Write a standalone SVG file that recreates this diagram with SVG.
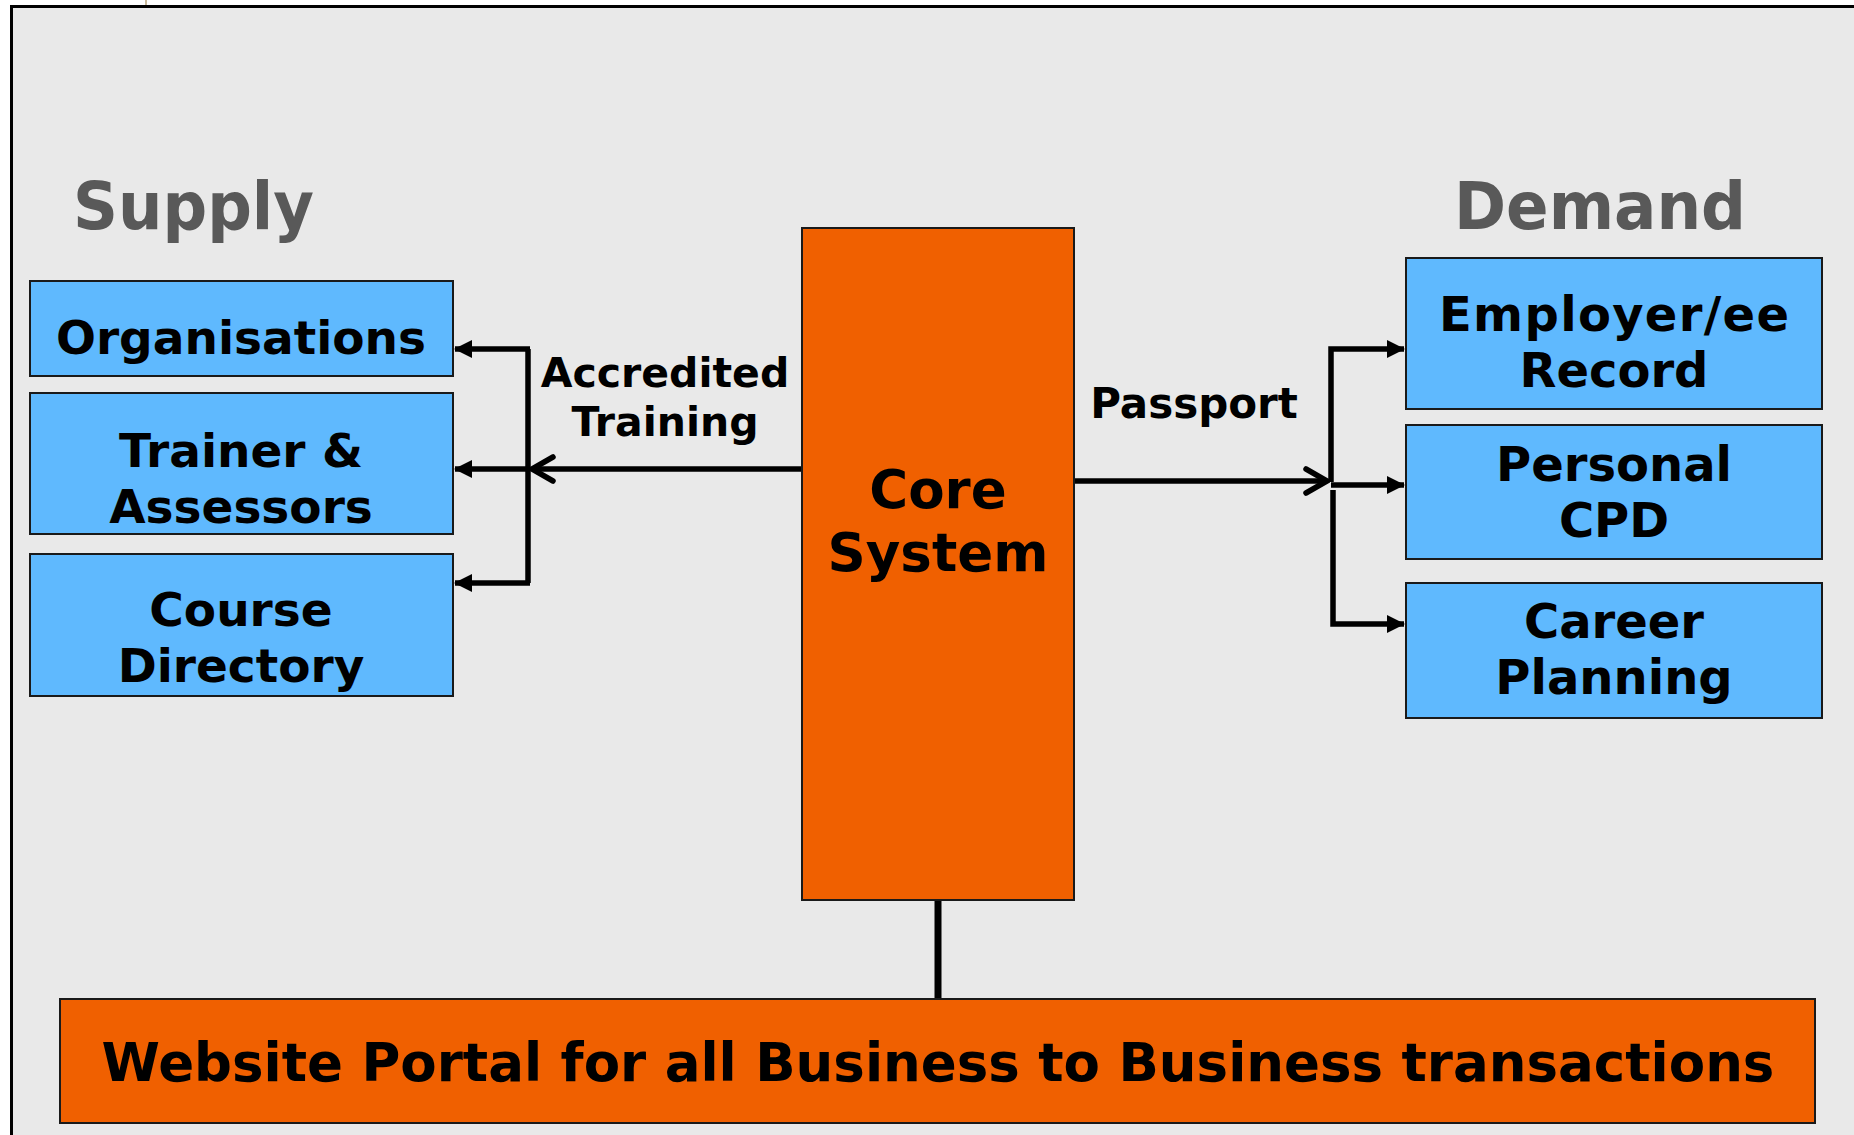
<svg xmlns="http://www.w3.org/2000/svg" width="1854" height="1135" viewBox="0 0 1854 1135">
  <style>
    .t { font-family: "DejaVu Sans", Verdana, sans-serif; font-weight: bold; text-anchor: middle; fill: #000; }
    .head { font-family: "DejaVu Sans", Verdana, sans-serif; font-weight: bold; fill: #595959; }
    .blue { fill: #5fb9fe; stroke: #1a1a1a; stroke-width: 2; }
    .orange { fill: #f06000; stroke: #1a1a1a; stroke-width: 2; }
    .ln { fill: none; stroke: #000; stroke-width: 5.5; }
  </style>
  <defs>
    <marker id="solid" viewBox="0 0 18 20" refX="17" refY="10" markerWidth="18" markerHeight="20" orient="auto" markerUnits="userSpaceOnUse">
      <path d="M0,1 L18,10 L0,19 Z" fill="#000"/>
    </marker>
    <marker id="open" viewBox="0 0 28 32" refX="25" refY="16" markerWidth="28" markerHeight="32" orient="auto" markerUnits="userSpaceOnUse">
      <path d="M4,4 L25,16 L4,28" fill="none" stroke="#000" stroke-width="5.5" stroke-linecap="round" stroke-linejoin="miter"/>
    </marker>
  </defs>

  <!-- page and frame -->
  <rect x="0" y="0" width="1854" height="1135" fill="#ffffff"/>
  <line x1="146" y1="0" x2="146" y2="6" stroke="#c9b99b" stroke-width="2"/>
  <rect x="11.5" y="6.5" width="1860" height="1140" fill="#e9e9e9" stroke="#000" stroke-width="3"/>

  <!-- headings -->
  <text class="head" x="73" y="229" font-size="66" textLength="241" lengthAdjust="spacingAndGlyphs">Supply</text>
  <text class="head" x="1454" y="229" font-size="65" textLength="292" lengthAdjust="spacingAndGlyphs">Demand</text>

  <!-- connectors -->
  <g id="connectors">
    <!-- supply side fan-out -->
    <path class="ln" d="M528,349 L528,583"/>
    <line class="ln" x1="530" y1="349" x2="455" y2="349" marker-end="url(#solid)"/>
    <line class="ln" x1="528" y1="469" x2="455" y2="469" marker-end="url(#solid)"/>
    <line class="ln" x1="530" y1="583" x2="455" y2="583" marker-end="url(#solid)"/>
    <line class="ln" x1="802" y1="469" x2="532" y2="469" marker-end="url(#open)"/>
    <!-- demand side fan-out -->
    <line class="ln" x1="1074" y1="481" x2="1327" y2="481" marker-end="url(#open)"/>
    <path class="ln" d="M1331,482 L1331,349 L1404,349" marker-end="url(#solid)"/>
    <path class="ln" d="M1333,490 L1333,624 L1404,624" marker-end="url(#solid)"/>
    <line class="ln" x1="1331" y1="485" x2="1404" y2="485" marker-end="url(#solid)"/>
    <!-- core to portal -->
    <line x1="938" y1="900" x2="938" y2="999" stroke="#000" stroke-width="7"/>
  </g>

  <!-- supply nodes -->
  <g id="organisations">
    <rect class="blue" x="30" y="281" width="423" height="95"/>
    <text class="t" x="241" y="354" font-size="47">Organisations</text>
  </g>
  <g id="trainers">
    <rect class="blue" x="30" y="393" width="423" height="141"/>
    <text class="t" x="241" y="467" font-size="47">Trainer &amp;</text>
    <text class="t" x="241" y="523" font-size="47">Assessors</text>
  </g>
  <g id="course-directory">
    <rect class="blue" x="30" y="554" width="423" height="142"/>
    <text class="t" x="241" y="626" font-size="47">Course</text>
    <text class="t" x="241" y="682" font-size="47">Directory</text>
  </g>

  <!-- edge labels -->
  <g id="label-accredited">
    <text class="t" x="665" y="387" font-size="41">Accredited</text>
    <text class="t" x="665" y="436" font-size="41">Training</text>
  </g>
  <g id="label-passport">
    <text class="t" x="1194" y="418" font-size="42">Passport</text>
  </g>

  <!-- core -->
  <g id="core-system">
    <rect class="orange" x="802" y="228" width="272" height="672"/>
    <text class="t" x="938" y="508" font-size="53">Core</text>
    <text class="t" x="938" y="571" font-size="53">System</text>
  </g>

  <!-- demand nodes -->
  <g id="employer-record">
    <rect class="blue" x="1406" y="258" width="416" height="151"/>
    <text class="t" x="1614" y="331" font-size="48" textLength="350" lengthAdjust="spacing">Employer/ee</text>
    <text class="t" x="1614" y="387" font-size="48">Record</text>
  </g>
  <g id="personal-cpd">
    <rect class="blue" x="1406" y="425" width="416" height="134"/>
    <text class="t" x="1614" y="481" font-size="48">Personal</text>
    <text class="t" x="1614" y="537" font-size="48">CPD</text>
  </g>
  <g id="career-planning">
    <rect class="blue" x="1406" y="583" width="416" height="135"/>
    <text class="t" x="1614" y="638" font-size="48">Career</text>
    <text class="t" x="1614" y="694" font-size="48">Planning</text>
  </g>

  <!-- portal -->
  <g id="website-portal">
    <rect class="orange" x="60" y="999" width="1755" height="124"/>
    <text class="t" x="938" y="1081" font-size="53">Website Portal for all Business to Business transactions</text>
  </g>
</svg>
